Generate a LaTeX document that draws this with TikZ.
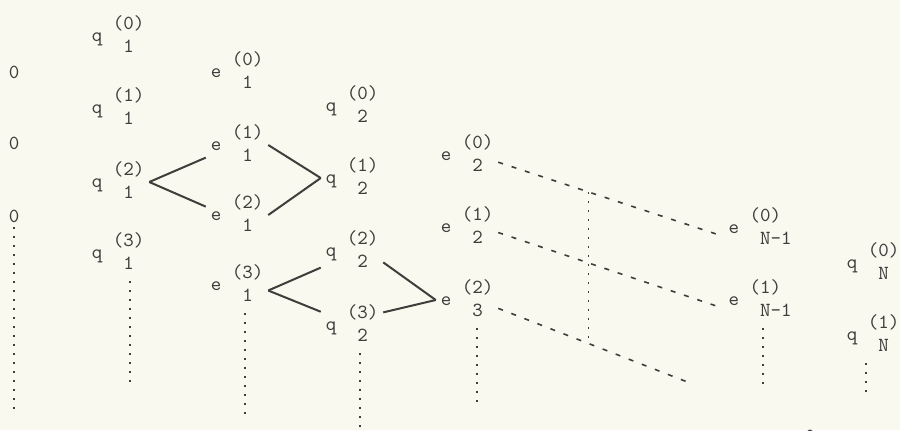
\documentclass[tikz,border=0pt]{standalone}
\usepackage{tikz}
\definecolor{paper}{HTML}{FAF9EF}
\definecolor{ink}{HTML}{3E3E3C}
\newcommand{\qdlab}[3]{#1~\begin{tabular}{@{}l@{}}#2\\\phantom{(}#3\end{tabular}}

\begin{document}
\begin{tikzpicture}[x=0.5pt, y=-0.5pt,
  ent/.style={font=\fontsize{10}{11.5}\selectfont\ttfamily, text=ink, inner sep=0pt, outer sep=2.5pt},
  rhomb/.style={draw=ink, line width=1pt},
  diag/.style={draw=ink, line width=0.8pt, dash pattern=on 2.5pt off 4.5pt},
  vdots/.style={draw=ink, line width=0.8pt, dash pattern=on 1pt off 3.5pt}]
  \fill[paper] (0,0) rectangle (900,430);
  \useasboundingbox (0,0) rectangle (900,430);
  % column of zeros
  \node[ent] (z0) at (14,72) {0};
  \node[ent] (z1) at (14,143) {0};
  \node[ent] (z2) at (14,216) {0};
  % q_1 and e_1
  \node[ent] (q10) at (118,36) {\qdlab{q}{(0)}{1}};
  \node[ent] (q11) at (118,108) {\qdlab{q}{(1)}{1}};
  \node[ent] (q12) at (118,182) {\qdlab{q}{(2)}{1}};
  \node[ent] (q13) at (118,253) {\qdlab{q}{(3)}{1}};
  \node[ent] (e10) at (237,72) {\qdlab{e}{(0)}{1}};
  \node[ent] (e11) at (237,145) {\qdlab{e}{(1)}{1}};
  \node[ent] (e12) at (237,215) {\qdlab{e}{(2)}{1}};
  \node[ent] (e13) at (237,285) {\qdlab{e}{(3)}{1}};
  % q_2 and e_2
  \node[ent] (q20) at (352,106) {\qdlab{q}{(0)}{2}};
  \node[ent] (q21) at (352,178) {\qdlab{q}{(1)}{2}};
  \node[ent] (q22) at (352,251) {\qdlab{q}{(2)}{2}};
  \node[ent] (q23) at (352,325) {\qdlab{q}{(3)}{2}};
  \node[ent] (e20) at (467,155) {\qdlab{e}{(0)}{2}};
  \node[ent] (e21) at (467,227) {\qdlab{e}{(1)}{2}};
  \node[ent] (e32) at (467,300) {\qdlab{e}{(2)}{3}};
  % last columns
  \node[ent] (eN0) at (760,228) {\qdlab{e}{(0)}{N-1}};
  \node[ent] (eN1) at (760,300) {\qdlab{e}{(1)}{N-1}};
  \node[ent] (qN0) at (873,263) {\qdlab{q}{(0)}{N}};
  \node[ent] (qN1) at (873,335) {\qdlab{q}{(1)}{N}};
  \node[ent] (zN) at (810,436) {0};
  % rhombus rules
  \draw[rhomb] (q12.east) -- (e11.202);
  \draw[rhomb] (q12.east) -- (e12.165);
  \draw[rhomb] (e11.east) -- (q21.west);
  \draw[rhomb] (e12.east) -- (q21.west);
  \draw[rhomb] (e13.-10) -- (q22.208);
  \draw[rhomb] (e13.-10) -- (q23.157);
  \draw[rhomb] (q22.-20) -- (e32.west);
  \draw[rhomb] (q23.22) -- (e32.west);
  % dashed diagonals
  \coordinate (d3end) at (690,383);
  \draw[diag] (e20.-13) -- coordinate[pos=0.4] (v1) (eN0.193);
  \draw[diag] (e21.-10) -- (eN1.193);
  \draw[diag] (e32.-15) -- coordinate[pos=0.47] (v3) (d3end);
  \draw[vdots] (v1) -- (v1 |- v3);
  % columns continue downwards
  \coordinate (zend) at (14,412);
  \coordinate (q1end) at (130,388);
  \coordinate (e1end) at (245,420);
  \coordinate (q2end) at (360,436);
  \coordinate (e3end) at (477,408);
  \coordinate (eNend) at (763,390);
  \coordinate (qNend) at (866,393);
  \draw[vdots] (z2) -- (zend);
  \draw[vdots] (q13.south -| q1end) -- (q1end);
  \draw[vdots] (e13.south -| e1end) -- (e1end);
  \draw[vdots] (q23.south -| q2end) -- (q2end);
  \draw[vdots] (e32.south -| e3end) -- (e3end);
  \draw[vdots] (eN1.south -| eNend) -- (eNend);
  \draw[vdots] (qN1.south -| qNend) -- (qNend);
\end{tikzpicture}
\end{document}
